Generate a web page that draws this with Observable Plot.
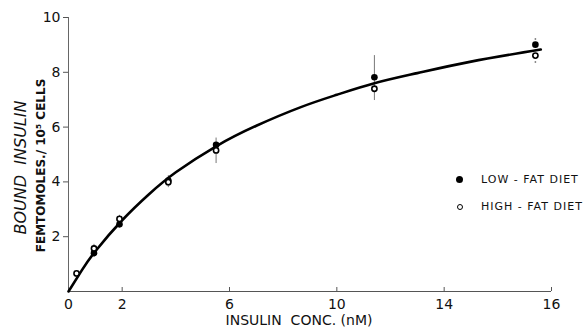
<!DOCTYPE html>
<html>
<head>
<meta charset="utf-8">
<script src="https://cdn.jsdelivr.net/npm/d3@7"></script>
<script src="https://cdn.jsdelivr.net/npm/@observablehq/plot@0.6"></script>
<style>
  body { margin: 0; background: #fff; }
  #wrap { position: relative; width: 585px; height: 333px; font-family: "DejaVu Sans", sans-serif; color: #111; }
  .leg { position: absolute; left: 456px; font-size: 11px; letter-spacing: 1px; line-height: 12px; white-space: nowrap; }
  .sym { display: inline-block; width: 7px; height: 7px; border-radius: 50%; box-sizing: border-box; margin-right: 18px; vertical-align: 0px; }
</style>
</head>
<body>
<div id="wrap"></div>
<script>
// Curve
const curveX = [0, 0.5, 1, 2, 3, 4, 5.5, 7, 8.66, 10, 11.4, 13, 15, 17.6];
const curveY = [0, 0.78, 1.47, 2.6, 3.55, 4.35, 5.3, 6.05, 6.73, 7.18, 7.6, 7.97, 8.39, 8.83];

// Low-fat diet (filled)
const lowX = [0.95, 1.9, 3.72, 5.5, 11.4, 17.4];
const lowY = [1.4, 2.45, 4.05, 5.35, 7.82, 9.01];

// High-fat diet (open)
const highX = [0.3, 0.95, 1.9, 3.72, 5.5, 11.4, 17.4];
const highY = [0.66, 1.57, 2.65, 3.99, 5.15, 7.4, 8.61];

// Error bars
const errX = [0.95, 1.9, 3.72, 5.5, 11.4, 17.4];
const errLo = [1.25, 2.35, 3.79, 4.67, 6.97, 8.33];
const errHi = [1.72, 2.78, 4.23, 5.6, 8.61, 9.46];

// Axis ticks (the last tick is printed as "16")
const xTicks = [0, 2, 6, 10, 14, 18];
const xTickLabels = ["0", "2", "6", "10", "14", "16"];
const yTicks = [2, 4, 6, 8, 10];
const yTickLabels = ["2", "4", "6", "8", "10"];

const legendLabels = ["LOW - FAT DIET", "HIGH - FAT DIET"];

const curve = curveX.map((x, i) => ({x, y: curveY[i]}));
const low = lowX.map((x, i) => ({x, y: lowY[i]}));
const high = highX.map((x, i) => ({x, y: highY[i]}));
const errs = errX.map((x, i) => ({x, lo: errLo[i], hi: errHi[i]}));

const plot = Plot.plot({
  width: 585,
  height: 333,
  marginTop: 17,
  marginBottom: 42,
  marginLeft: 68,
  marginRight: 34,
  style: {fontFamily: "DejaVu Sans, sans-serif", fontSize: "14px", color: "#111", background: "transparent"},
  x: {domain: [0, 18]},
  y: {domain: [0, 10]},
  marks: [
    Plot.ruleX([0], {stroke: "#666", strokeWidth: 1}),
    Plot.ruleY([0], {stroke: "#555", strokeWidth: 1}),
    Plot.axisX(xTicks, {tickSize: -4, text: null, label: null, stroke: "#555"}),
    Plot.axisX(xTicks, {tickSize: 0, tickPadding: 8, tickFormat: d => xTickLabels[xTicks.indexOf(d)], fontSize: 14, label: null}),
    Plot.axisY(yTicks, {tickSize: 5, tickPadding: 3, tickFormat: d => yTickLabels[yTicks.indexOf(d)], fontSize: 14, label: null, stroke: "#555"}),
    Plot.ruleX(errs, {filter: (d, i) => i < 5, x: "x", y1: "lo", y2: "hi", stroke: "#777", strokeWidth: 1}),
    Plot.ruleX(errs, {filter: (d, i) => i === 5, x: "x", y1: "lo", y2: "hi", stroke: "#666", strokeWidth: 1.5, strokeDasharray: "1.5,10"}),
    Plot.line(curve, {x: "x", y: "y", curve: "natural", stroke: "#000", strokeWidth: 2.6}),
    Plot.dot(low, {x: "x", y: "y", r: 3.3, fill: "#000", stroke: "none"}),
    Plot.dot(high, {x: "x", y: "y", r: 2.6, fill: "#fff", stroke: "#000", strokeWidth: 1.6}),
    Plot.text(["BOUND  INSULIN"], {text: d => d, frameAnchor: "left", textAnchor: "middle", dx: -48, dy: 13, rotate: -90, fontSize: 16, fontStyle: "italic", fill: "#111", ariaLabel: "ytitle1"}),
    Plot.text(["FEMTOMOLES./ 10⁵ CELLS"], {text: d => d, frameAnchor: "left", textAnchor: "middle", dx: -27, dy: 11, rotate: -90, fontSize: 12, fontWeight: "bold", fill: "#111", ariaLabel: "ytitle2"}),
    Plot.text(["INSULIN  CONC. (nM)"], {text: d => d, frameAnchor: "bottom", dx: -11, dy: 33, fontSize: 14, fill: "#111", ariaLabel: "xtitle"})
  ]
});

d3.select(plot).selectAll('g[aria-label="ytitle1"] text').style("letter-spacing", "1.9px");
d3.select(plot).selectAll('g[aria-label="ytitle2"] text').style("letter-spacing", "2.4px");
d3.select(plot).selectAll('g[aria-label="xtitle"] text').style("letter-spacing", "3px");

const wrap = document.getElementById("wrap");
wrap.appendChild(plot);

const legTops = [174, 201];
legendLabels.forEach((lab, i) => {
  const div = document.createElement("div");
  div.className = "leg";
  div.style.top = legTops[i] + "px";
  const s = document.createElement("span");
  s.className = "sym";
  if (i === 0) { s.style.background = "#000"; }
  else { s.style.background = "#fff"; s.style.border = "1.5px solid #000"; s.style.width = "6px"; s.style.height = "6px"; s.style.marginLeft = "0.5px"; s.style.marginRight = "18.5px"; }
  div.appendChild(s);
  div.appendChild(document.createTextNode(lab));
  wrap.appendChild(div);
});
plot.style.position = "absolute";
plot.style.left = "0";
plot.style.top = "0";
</script>
</body>
</html>
